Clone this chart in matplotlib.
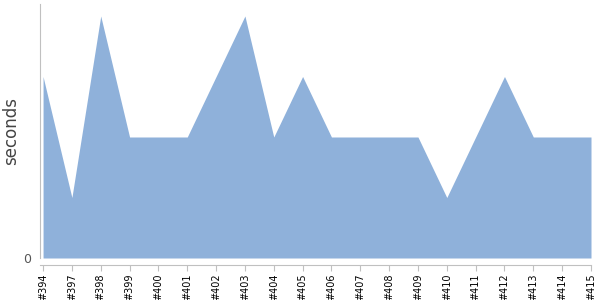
import matplotlib
matplotlib.use("Agg")
import matplotlib.pyplot as plt

builds = ['#394', '#397', '#398', '#399', '#400', '#401', '#402', '#403', '#404', '#405',
          '#406', '#407', '#408', '#409', '#410', '#411', '#412', '#413', '#414', '#415']
seconds = [3, 1, 4, 2, 2, 2, 3, 4, 2, 3, 2, 2, 2, 2, 1, 2, 3, 2, 2, 2]

fig = plt.figure(figsize=(6, 3), dpi=100)
ax = fig.add_axes([0.066, 0.14, 0.919, 0.847])

x = list(range(len(builds)))
ax.fill_between(x, seconds, 0, color='#8fb1da', linewidth=0)

# spines first, set_position resets the ticks
for s in ['top', 'right']:
    ax.spines[s].set_visible(False)
ax.spines['left'].set_color('#c0c0c0')
ax.spines['bottom'].set_color('#c0c0c0')
ax.spines['bottom'].set_position(('outward', 5))

ax.set_xlim(-0.12, len(builds) - 1)
ax.set_ylim(0, 4.2)

ax.set_xticks(x)
ax.set_xticklabels(builds, rotation=90, fontsize=7, color='black')
ax.set_yticks([0])
ax.set_yticklabels(['0'], fontsize=9, color='#555555')
ax.tick_params(axis='x', length=4, color='#c0c0c0', pad=2)
ax.tick_params(axis='y', length=0, pad=6)

ax.set_ylabel('seconds', fontsize=12, color='#444444')
ax.yaxis.set_label_coords(-0.036, 0.5)

plt.savefig("out.png")
